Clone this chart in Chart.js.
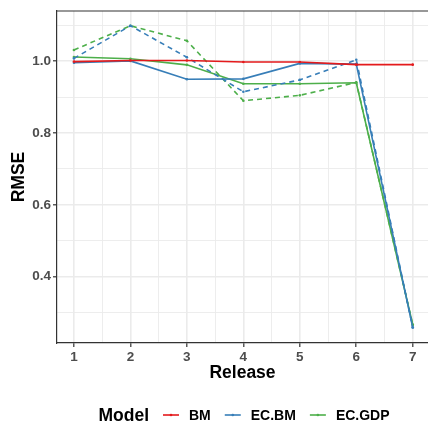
<!DOCTYPE html>
<html>
<head>
<meta charset="utf-8">
<script src="https://cdn.jsdelivr.net/npm/chart.js@4"></script>
<style>
html, body { margin: 0; padding: 0; background: #fff; }
#wrap { width: 428px; height: 422px; }
</style>
</head>
<body>
<div id="wrap"><canvas id="rmse-chart"></canvas></div>
<script>
// values
const releases = [1, 2, 3, 4, 5, 6, 7];
const bm        = [0.999, 1.002, 1.002, 0.998, 0.998, 0.9905, 0.9905];
const ecbm      = [0.996, 1.001, 0.950, 0.951, 0.994, 0.992, 0.258];
const ecbmDash  = [1.008, 1.099, 1.011, 0.915, 0.948, 1.004, 0.258];
const ecgdp     = [1.012, 1.007, 0.990, 0.9375, 0.9375, 0.940, 0.266];
const ecgdpDash = [1.0315, 1.099, 1.057, 0.890, 0.905, 0.941, 0.266];

const xTicks = [1, 2, 3, 4, 5, 6, 7];
const xMinor = [1.5, 2.5, 3.5, 4.5, 5.5, 6.5];
const yTicks = [0.4, 0.6, 0.8, 1.0];
const yMinor = [0.3, 0.5, 0.7, 0.9, 1.1];

const RED = '#E41A1C', BLUE = '#377EB8', GREEN = '#4DAF4A';
const legendItems = [
    { label: 'BM', color: RED },
    { label: 'EC.BM', color: BLUE },
    { label: 'EC.GDP', color: GREEN }
];

Chart.defaults.font.family = "'Liberation Sans', Arial, sans-serif";

function pts(arr) {
    return releases.map((r, i) => ({ x: r, y: arr[i] }));
}
function isMajor(list, v) {
    return list.some(t => Math.abs(t - v) < 1e-6);
}
function series(label, arr, color, dashed) {
    return {
        label: label,
        data: pts(arr),
        borderColor: color,
        backgroundColor: color,
        borderWidth: 1.6,
        borderDash: dashed ? [5, 4] : [],
        pointRadius: 1.3,
        pointBorderWidth: 0,
        pointHoverRadius: 0,
        tension: 0,
        fill: false
    };
}

// top border of the panel
const topBorder = {
    id: 'topBorder',
    afterDraw(chart) {
        const a = chart.chartArea, ctx = chart.ctx;
        ctx.save();
        ctx.strokeStyle = '#333';
        ctx.lineWidth = 1.2;
        ctx.beginPath();
        ctx.moveTo(a.left, a.top);
        ctx.lineTo(a.right, a.top);
        ctx.stroke();
        ctx.restore();
    }
};

// ggplot-like legend: title inline with the keys
const modelLegend = {
    id: 'modelLegend',
    afterDraw(chart) {
        const ctx = chart.ctx;
        ctx.save();
        ctx.textBaseline = 'alphabetic';
        ctx.font = "bold 17.5px 'Liberation Sans', Arial";
        const titleW = ctx.measureText('Model').width;
        ctx.font = "bold 14px 'Liberation Sans', Arial";
        const widths = legendItems.map(it => ctx.measureText(it.label).width);
        let total = titleW;
        widths.forEach(w => { total += 14 + 16 + 10 + w; });
        let x = 244 - total / 2;
        const base = 421;
        ctx.fillStyle = '#000';
        ctx.font = "bold 17.5px 'Liberation Sans', Arial";
        ctx.fillText('Model', x, base);
        x += titleW;
        ctx.font = "bold 14px 'Liberation Sans', Arial";
        legendItems.forEach((it, i) => {
            x += 14;
            const ly = base - 6;
            ctx.strokeStyle = it.color;
            ctx.lineWidth = 1.6;
            ctx.beginPath();
            ctx.moveTo(x, ly);
            ctx.lineTo(x + 16, ly);
            ctx.stroke();
            ctx.fillStyle = it.color;
            ctx.beginPath();
            ctx.arc(x + 8, ly, 1.3, 0, Math.PI * 2);
            ctx.fill();
            x += 16 + 10;
            ctx.fillStyle = '#000';
            ctx.fillText(it.label, x, base - 1);
            x += widths[i];
        });
        ctx.restore();
    }
};

const ctxEl = document.getElementById('rmse-chart');
const rmseChart = new Chart(ctxEl, {
    type: 'line',
    data: {
        datasets: [
            series('BM', bm, RED, false),
            series('EC.BM', ecbm, BLUE, false),
            series('EC.BM dashed', ecbmDash, BLUE, true),
            series('EC.GDP', ecgdp, GREEN, false),
            series('EC.GDP dashed', ecgdpDash, GREEN, true)
        ]
    },
    options: {
        responsive: true,
        maintainAspectRatio: false,
        animation: false,
        layout: { autoPadding: false, padding: { top: 11, right: 0, left: 0, bottom: 30 } },
        plugins: {
            legend: { display: false },
            tooltip: { enabled: false }
        },
        scales: {
            x: {
                type: 'linear',
                min: 0.7,
                max: 7.27,
                afterBuildTicks: s => {
                    s.ticks = xTicks.concat(xMinor).sort((a, b) => a - b).map(v => ({ value: v }));
                },
                afterFit: s => { s.height = 49; s.paddingRight = 0; },
                ticks: {
                    autoSkip: false,
                    maxRotation: 0,
                    padding: 2,
                    color: '#4D4D4D',
                    font: { size: 13.5, weight: 'bold' },
                    callback: v => isMajor(xTicks, v) ? String(v) : ''
                },
                grid: {
                    color: '#EBEBEB',
                    lineWidth: c => isMajor(xTicks, c.tick.value) ? 1.6 : 0.9,
                    tickColor: c => isMajor(xTicks, c.tick.value) ? '#333' : 'rgba(0,0,0,0)',
                    tickLength: 4,
                    tickWidth: 1.2
                },
                border: { display: true, color: '#333', width: 1.2 },
                title: {
                    display: true,
                    text: 'Release',
                    color: '#000',
                    font: { size: 17.5, weight: 'bold' },
                    padding: { top: 0, bottom: 8 }
                }
            },
            y: {
                min: 0.215,
                max: 1.14,
                afterBuildTicks: s => {
                    s.ticks = yTicks.concat(yMinor).sort((a, b) => a - b).map(v => ({ value: v }));
                },
                afterFit: s => { s.width = 57; },
                ticks: {
                    autoSkip: false,
                    padding: 2,
                    color: '#4D4D4D',
                    font: { size: 13.5, weight: 'bold' },
                    callback: v => isMajor(yTicks, v) ? v.toFixed(1) : ''
                },
                grid: {
                    color: '#EBEBEB',
                    lineWidth: c => isMajor(yTicks, c.tick.value) ? 1.6 : 0.9,
                    tickColor: c => isMajor(yTicks, c.tick.value) ? '#333' : 'rgba(0,0,0,0)',
                    tickLength: 4,
                    tickWidth: 1.2
                },
                border: { display: true, color: '#333', width: 1.2 },
                title: {
                    display: true,
                    text: 'RMSE',
                    color: '#000',
                    font: { size: 17.5, weight: 'bold' },
                    padding: { top: 9, bottom: 0 }
                }
            }
        }
    },
    plugins: [topBorder, modelLegend]
});
</script>
</body>
</html>
